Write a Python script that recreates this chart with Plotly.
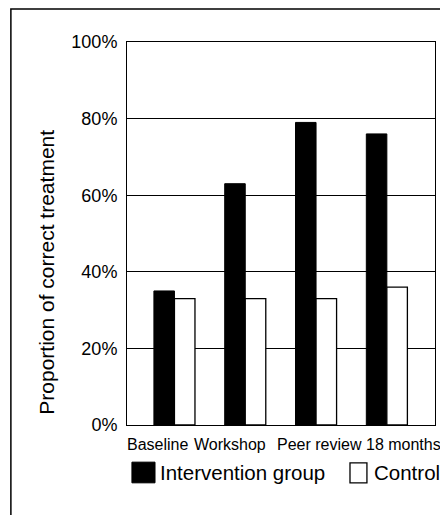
import plotly.graph_objects as go

categories = ["Baseline", "Workshop", "Peer review", "18 months"]
intervention = [35, 63, 79, 76]
control = [33, 33, 33, 36]
y_ticks = [0, 20, 40, 60, 80, 100]
y_tick_labels = ["0%", "20%", "40%", "60%", "80%", "100%"]
series_names = ["Intervention group", "Control"]

font = "Liberation Sans, Arial, Helvetica, sans-serif"

fig = go.Figure()
fig.add_trace(go.Bar(x=categories, y=intervention, name=series_names[0],
                     marker=dict(color="black", line=dict(color="black", width=1))))
fig.add_trace(go.Bar(x=categories, y=control, name=series_names[1],
                     marker=dict(color="white", line=dict(color="black", width=1.3))))

# category labels (slightly offset like the original typesetting)
label_shift = [-17, -15, 3, 17]
annotations = []
for c, s in zip(categories, label_shift):
    annotations.append(dict(x=c, xref="x", y=-0.052, yref="paper", text=c, showarrow=False,
                            xanchor="center", yanchor="middle", xshift=s,
                            font=dict(size=16, family=font, color="black")))

# y-axis title
annotations.append(dict(x=-0.26, y=0.40, xref="paper", yref="paper", text="Proportion of correct treatment",
                        textangle=-90, showarrow=False, xanchor="center", yanchor="middle",
                        font=dict(size=21, family=font, color="black")))

# legend text
annotations.append(dict(x=0.100, y=-0.125, xref="paper", yref="paper", text=series_names[0],
                        showarrow=False, xanchor="left", yanchor="middle",
                        font=dict(size=20.5, family=font, color="black")))
annotations.append(dict(x=0.795, y=-0.125, xref="paper", yref="paper", text=series_names[1],
                        showarrow=False, xanchor="left", yanchor="middle",
                        font=dict(size=20.5, family=font, color="black")))

shapes = [
    # outer frame
    dict(type="rect", xref="paper", yref="paper", x0=-0.377, x1=1.2, y0=-0.4, y1=1.086,
         line=dict(color="black", width=1.5), fillcolor="rgba(0,0,0,0)", layer="below"),
    # legend swatches
    dict(type="rect", xref="paper", yref="paper", x0=0.016, x1=0.091, y0=-0.151, y1=-0.097,
         line=dict(color="black", width=1), fillcolor="black"),
    dict(type="rect", xref="paper", yref="paper", x0=0.724, x1=0.779, y0=-0.151, y1=-0.099,
         line=dict(color="black", width=1.3), fillcolor="white"),
]

fig.update_layout(
    width=440, height=507,
    margin=dict(l=119, r=13, t=34, b=90),
    paper_bgcolor="white", plot_bgcolor="white",
    barmode="group", bargap=0.42, bargroupgap=0.0,
    font=dict(family=font, color="black"),
    showlegend=False,
    xaxis=dict(range=[-0.67, 3.68], showgrid=False, showline=True, linecolor="black", linewidth=1,
               mirror=True, showticklabels=False, ticks=""),
    yaxis=dict(range=[0, 100], tickvals=y_ticks, ticktext=y_tick_labels,
               showgrid=True, gridcolor="black", gridwidth=1,
               showline=True, linecolor="black", linewidth=1, mirror=True,
               zeroline=False, ticks="", ticklabelstandoff=5,
               tickfont=dict(size=18, family=font)),
    annotations=annotations,
    shapes=shapes,
)

fig.write_html("out.html")
